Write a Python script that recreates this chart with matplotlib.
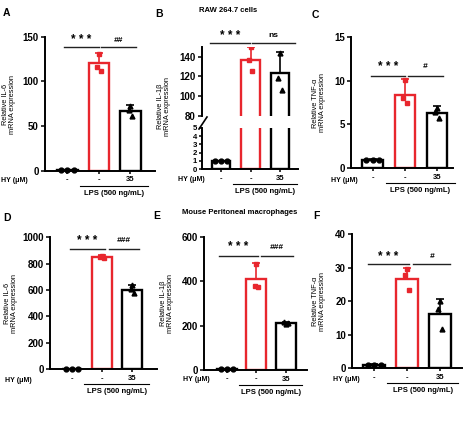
import numpy as np
import matplotlib
matplotlib.use('Agg')
import matplotlib.pyplot as plt
from matplotlib import transforms
from matplotlib.lines import Line2D

plt.rcParams['font.family'] = ['Liberation Sans', 'DejaVu Sans']

RED = '#e8262d'
W, H = 474, 423

xlabels = ['-', '-', '35']

# A: IL-6, RAW 264.7
a_mean = [1, 120, 67]
a_err = [0.3, 12, 6]
a_pts = [[1, 1, 1], [131, 116, 112], [72, 68, 61]]
# B: IL-1b, RAW 264.7 (broken axis)
b_mean = [1, 137, 123]
b_err = [0.05, 13, 22]
b_pts = [[1, 1, 1], [150, 137, 125], [144, 118, 106]]
# C: TNF-a, RAW 264.7
c_mean = [1, 8.4, 6.3]
c_err = [0.05, 1.8, 0.75]
c_pts = [[1, 1, 1], [10.1, 8.0, 7.4], [6.9, 6.4, 5.7]]
# D: IL-6, peritoneal macrophages
d_mean = [4, 848, 603]
d_err = [2, 15, 35]
d_pts = [[4, 4, 4], [856, 850, 845], [636, 606, 580]]
# E: IL-1b, peritoneal macrophages
e_mean = [3, 408, 210]
e_err = [2, 72, 5]
e_pts = [[3, 3, 3], [478, 378, 372], [207, 214, 210]]
# F: TNF-a, peritoneal macrophages
f_mean = [1, 26.6, 16.3]
f_err = [0.2, 3.2, 4.5]
f_pts = [[1, 1, 1], [29.5, 27.8, 23.3], [20, 17.6, 11.7]]

fig = plt.figure(figsize=(W / 100, H / 100), dpi=100)


def px_axes(left, right, top, bottom):
    return fig.add_axes([left / W, 1 - bottom / H, (right - left) / W, (bottom - top) / H])


def draw_bars(ax, mean, err, pts, width, clip=False):
    x = np.arange(3)
    colors = ['black', RED, 'black']
    markers = ['o', 's', '^']
    for i in range(3):
        ax.bar(x[i], mean[i], width, color='white', edgecolor=colors[i], linewidth=1.7, zorder=2)
        ax.errorbar(x[i], mean[i], yerr=[[0], [err[i]]], color=colors[i], capsize=3,
                    elinewidth=1.2, capthick=1.2, zorder=3)
        offs = [-0.2, 0, 0.2] if i == 0 else [0, -0.06, 0.06]
        ax.plot(x[i] + np.array(offs), pts[i], linestyle='none', marker=markers[i],
                color=colors[i], markersize=3.5, zorder=4, clip_on=clip)


def style(ax, xlim, ylim, yticks, bottom=True, ysize=7):
    ax.set_xlim(xlim)
    ax.set_ylim(ylim)
    ax.set_yticks(yticks)
    ax.spines[['top', 'right']].set_visible(False)
    for s in ['left', 'bottom']:
        ax.spines[s].set_linewidth(1.4)
    ax.tick_params(axis='y', length=3, width=1.1, pad=1.5, labelsize=ysize)
    for t in ax.get_yticklabels():
        t.set_fontweight('bold')
    if bottom:
        ax.set_xticks([0, 1, 2])
        ax.set_xticklabels(xlabels, fontsize=5.5, fontweight='bold')
        ax.tick_params(axis='x', length=2.5, width=1.1, pad=1.5)
        tr = transforms.offset_copy(ax.get_xaxis_transform(), fig=fig, y=-15, units='dots')
        ax.plot([0.4, 2.55], [0, 0], transform=tr, clip_on=False, color='black', lw=0.8)
        tr2 = transforms.offset_copy(ax.get_xaxis_transform(), fig=fig, y=-19, units='dots')
        ax.text(1.48, 0, 'LPS (500 ng/mL)', transform=tr2, ha='center', va='top',
                fontsize=5.5, fontweight='bold')
    else:
        ax.spines['bottom'].set_visible(False)
        ax.set_xticks([])


def sig(ax, y_line, y_text, segs, texts):
    tr = ax.get_xaxis_transform()
    for (x0, x1), t in zip(segs, texts):
        ax.plot([x0, x1], [y_line, y_line], transform=tr, clip_on=False, color='#222222', lw=1)
        if t.startswith('*'):
            ax.text((x0 + x1) / 2, y_text, t, transform=tr, ha='center', va='center',
                    fontsize=8.5, fontweight='bold')
        else:
            ax.text((x0 + x1) / 2, y_text, t, transform=tr, ha='center', va='center',
                    fontsize=6, fontweight='bold', style='italic' if t.startswith('#') else 'normal')


def side_text(x_hy, y_hy, x_lab, y_lab, label):
    fig.text(x_hy / W, 1 - y_hy / H, 'HY (μM)', ha='right', va='center', fontsize=5, fontweight='bold')
    fig.text(x_lab / W, 1 - y_lab / H, label, ha='center', va='center', rotation=90,
             fontsize=5.3, linespacing=1.1)


# ---- A ----
axA = px_axes(45, 155, 36.7, 170.7)
draw_bars(axA, a_mean, a_err, a_pts, 0.65)
style(axA, (-0.71, 2.78), (0, 150), [0, 50, 100, 150])
sig(axA, 0.92, 0.975, [(-0.12, 0.99), (1.07, 2.19)], ['* * *', '##'])
side_text(28, 180, 9, 104, 'Relative IL-6\nmRNA expression')

# ---- B (broken axis) ----
axB1 = px_axes(202, 298, 127.7, 169.3)
axB2 = px_axes(202, 298, 46.7, 116)
for ax in (axB1, axB2):
    draw_bars(ax, b_mean, b_err, b_pts, 0.62, clip=True)
style(axB1, (-0.64, 2.6), (0, 5), [0, 1, 2, 3, 4, 5], ysize=5.6)
axB1.tick_params(axis='y', length=2.5, pad=1)
style(axB2, (-0.64, 2.6), (80, 150), [80, 100, 120, 140], bottom=False)
sig(axB2, 1.05, 1.16, [(-0.37, 0.98), (1.05, 2.5)], ['* * *', 'ns'])
side_text(205, 179, 164, 106, 'Relative IL-1β\nmRNA expression')
fig.add_artist(Line2D([199 / W, 207 / W], [1 - 129 / H, 1 - 117 / H], color='black', lw=1.2))

# ---- C ----
axC = px_axes(351, 453.3, 36.7, 168.3)
draw_bars(axC, c_mean, c_err, c_pts, 0.64)
style(axC, (-0.67, 2.5), (0, 15), [0, 5, 10, 15])
sig(axC, 0.70, 0.77, [(-0.05, 1.0), (1.09, 2.19)], ['* * *', '#'])
side_text(358, 180, 319, 103, 'Relative TNF-α\nmRNA expression')

# ---- D ----
axD = px_axes(50, 156.7, 237.3, 369.3)
draw_bars(axD, d_mean, d_err, d_pts, 0.66)
style(axD, (-0.72, 2.8), (0, 1000), [0, 200, 400, 600, 800, 1000])
sig(axD, 0.909, 0.974, [(-0.06, 1.1), (1.21, 2.23)], ['* * *', '###'])
side_text(32, 380, 11, 303, 'Relative IL-6\nmRNA expression')

# ---- E ----
axE = px_axes(204.3, 306.7, 236.7, 370)
draw_bars(axE, e_mean, e_err, e_pts, 0.67)
style(axE, (-0.76, 2.7), (0, 600), [0, 200, 400, 600])
sig(axE, 0.855, 0.92, [(-0.28, 1.04), (1.14, 2.25)], ['* * *', '###'])
side_text(210, 379, 167, 303, 'Relative IL-1β\nmRNA expression')

# ---- F ----
axF = px_axes(352.3, 461.7, 234.3, 368.3)
draw_bars(axF, f_mean, f_err, f_pts, 0.67)
style(axF, (-0.67, 2.66), (0, 40), [0, 10, 20, 30, 40])
sig(axF, 0.776, 0.833, [(-0.18, 1.05), (1.19, 2.31)], ['* * *', '#'])
side_text(360, 379, 319, 301, 'Relative TNF-α\nmRNA expression')

# panel letters and titles
for lab, x, y in [('A', 3, 13), ('B', 155, 14), ('C', 312, 15),
                  ('D', 3, 218), ('E', 153, 216), ('F', 313, 216)]:
    fig.text(x / W, 1 - y / H, lab, ha='left', va='center', fontsize=7.5, fontweight='bold')
fig.text(228 / W, 1 - 11 / H, 'RAW 264.7 cells', ha='center', va='center', fontsize=5.5, fontweight='bold')
fig.text(240 / W, 1 - 212 / H, 'Mouse Peritoneal macrophages', ha='center', va='center',
         fontsize=5.5, fontweight='bold')

fig.savefig('out.png', dpi=100)
